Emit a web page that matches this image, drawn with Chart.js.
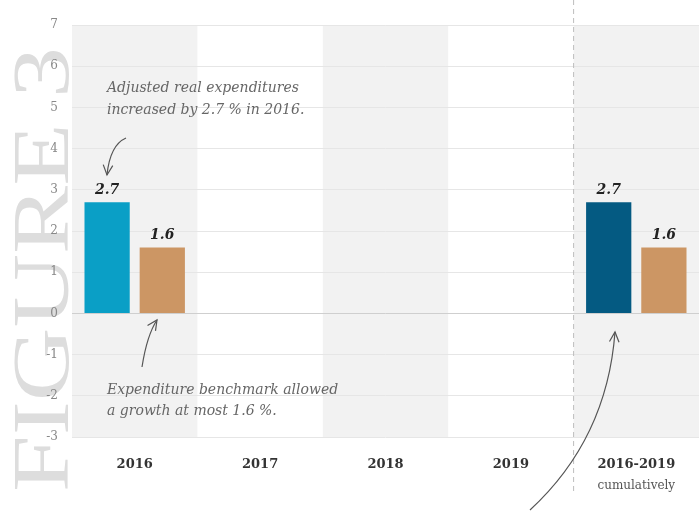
<html lang="en">
<head>
  <meta charset="UTF-8">
  <title>Figure 3</title>
  <script src="https://cdn.jsdelivr.net/npm/chart.js"></script>
  <style>
    html, body { margin: 0; padding: 0; background: #fff; }
    #wrap { width: 699px; height: 519px; }
  </style>
</head>
<body>
  <div id="wrap"><canvas id="fig3"></canvas></div>

  <script>
    // data
    const categories = ['2016', '2017', '2018', '2019', '2016-2019'];
    const adjustedReal = [2.7, null, null, null, 2.7];
    const benchmark = [1.6, null, null, null, 1.6];
    const yTicks = [-3, -2, -1, 0, 1, 2, 3, 4, 5, 6, 7];

    const adjustedColors = ['#0a9fc6', '#0a9fc6', '#0a9fc6', '#0a9fc6', '#045a82'];
    const benchColor = '#cc9664';

    const serif = '"DejaVu Serif", "Liberation Serif", serif';

    function arrow(ctx, x0, y0, cx, cy, x1, y1) {
      ctx.beginPath();
      ctx.moveTo(x0, y0);
      ctx.quadraticCurveTo(cx, cy, x1, y1);
      ctx.stroke();
      // head
      const a = Math.atan2(y1 - cy, x1 - cx);
      const len = 11, spread = 0.45;
      ctx.beginPath();
      ctx.moveTo(x1 - len * Math.cos(a - spread), y1 - len * Math.sin(a - spread));
      ctx.lineTo(x1, y1);
      ctx.lineTo(x1 - len * Math.cos(a + spread), y1 - len * Math.sin(a + spread));
      ctx.stroke();
    }

    const backdrop = {
      id: 'backdrop',
      beforeDraw(chart) {
        const ctx = chart.ctx;
        const area = chart.chartArea;
        const x = chart.scales.x;
        ctx.save();

        // big watermark
        ctx.fillStyle = '#dddddd';
        ctx.font = '80px "Liberation Serif", serif';
        const w = ctx.measureText('FIGURE 3').width;
        ctx.translate(68, 492);
        ctx.rotate(-Math.PI / 2);
        ctx.scale(445 / w, 1);
        ctx.textBaseline = 'alphabetic';
        ctx.fillText('FIGURE 3', 0, 0);
        ctx.restore();

        // alternating column bands
        ctx.save();
        ctx.fillStyle = '#f2f2f2';
        const half = (x.getPixelForValue(1) - x.getPixelForValue(0)) / 2;
        categories.forEach((c, i) => {
          if (i % 2 === 0) {
            const cx = x.getPixelForValue(i);
            ctx.fillRect(cx - half, area.top, half * 2, area.bottom - area.top);
          }
        });
        ctx.restore();
      },
      afterDraw(chart) {
        const ctx = chart.ctx;
        const x = chart.scales.x;
        ctx.save();

        // dashed separator before the cumulative column
        const sep = (x.getPixelForValue(3) + x.getPixelForValue(4)) / 2;
        ctx.strokeStyle = '#bdbdbd';
        ctx.lineWidth = 1;
        ctx.setLineDash([5, 4]);
        ctx.beginPath();
        ctx.moveTo(sep, 0);
        ctx.lineTo(sep, 492);
        ctx.stroke();
        ctx.setLineDash([]);

        // value labels
        ctx.fillStyle = '#222';
        ctx.font = 'italic bold 14px ' + serif;
        ctx.textAlign = 'center';
        ctx.textBaseline = 'bottom';
        [0, 1].forEach(d => {
          const meta = chart.getDatasetMeta(d);
          meta.data.forEach((bar, i) => {
            const v = chart.data.datasets[d].data[i];
            if (v == null) return;
            ctx.fillText(v.toFixed(1), bar.x, bar.y - 5);
          });
        });

        // second line under the last category
        ctx.fillStyle = '#555';
        ctx.font = '12px ' + serif;
        ctx.textBaseline = 'middle';
        ctx.fillText('cumulatively', x.getPixelForValue(4), 486);

        // annotations
        ctx.fillStyle = '#666';
        ctx.font = 'italic 14px ' + serif;
        ctx.textAlign = 'left';
        ctx.fillText('Adjusted real expenditures', 107, 88);
        ctx.fillText('increased by 2.7 % in 2016.', 107, 110);
        ctx.fillText('Expenditure benchmark allowed', 107, 390);
        ctx.fillText('a growth at most 1.6 %.', 107, 411);

        ctx.strokeStyle = '#555';
        ctx.lineWidth = 1.2;
        arrow(ctx, 126, 138, 110, 145, 107, 175);
        arrow(ctx, 142, 367, 147, 335, 157, 320);
        arrow(ctx, 530, 510, 607, 439, 615, 332);

        ctx.restore();
      }
    };

    new Chart(document.getElementById('fig3'), {
      type: 'bar',
      data: {
        labels: categories,
        datasets: [{
          label: 'Adjusted real expenditures',
          data: adjustedReal,
          backgroundColor: adjustedColors
        }, {
          label: 'Expenditure benchmark',
          data: benchmark,
          backgroundColor: benchColor
        }]
      },
      options: {
        responsive: true,
        maintainAspectRatio: false,
        animation: false,
        layout: { padding: { top: 25, left: 0, right: 0, bottom: 0 } },
        categoryPercentage: 0.88,
        barPercentage: 0.82,
        plugins: {
          legend: { display: false },
          tooltip: { enabled: false }
        },
        scales: {
          x: {
            grid: { display: false },
            border: { display: false },
            ticks: {
              color: '#333',
              padding: 12,
              maxRotation: 0,
              font: { family: serif, size: 13, weight: 'bold' }
            },
            afterFit(scale) { scale.height = 82; }
          },
          y: {
            min: -3,
            max: 7,
            afterBuildTicks(scale) { scale.ticks = yTicks.map(v => ({ value: v })); },
            grid: {
              drawTicks: false,
              color: ctx => ctx.tick && ctx.tick.value === 0 ? '#cfcfcf' : '#e6e6e6'
            },
            border: { display: false },
            ticks: {
              color: '#888',
              padding: 14,
              font: { family: serif, size: 12 }
            },
            afterFit(scale) { scale.width = 72; }
          }
        }
      },
      plugins: [backdrop]
    });
  </script>
</body>
</html>
